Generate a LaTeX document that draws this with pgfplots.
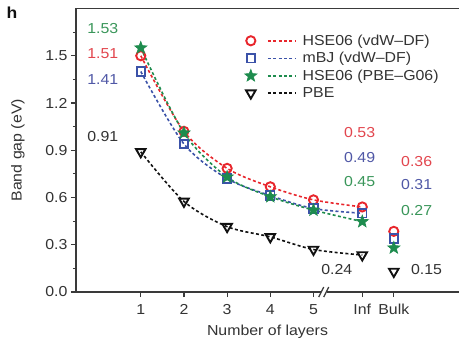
\documentclass[border=0pt]{standalone}
\usepackage{pgfplots}
\pgfplotsset{compat=1.18}
\usepackage{fontspec}
\setmainfont{Liberation Sans}[FakeStretch=1.1]
\definecolor{cred}{HTML}{E8262C}
\definecolor{cblue}{HTML}{3B52A8}
\definecolor{cgreen}{HTML}{1E8C4E}
\definecolor{cblack}{HTML}{111111}
\definecolor{tred}{HTML}{E2464E}
\definecolor{tblue}{HTML}{5058A6}
\definecolor{tgreen}{HTML}{3A965A}
\definecolor{axgray}{HTML}{3A3A3A}
\definecolor{txgray}{HTML}{333333}
\pgfdeclareplotmark{fstar}{%
  \pgfpathmoveto{\pgfpointpolar{90}{\pgfplotmarksize}}%
  \pgfpathlineto{\pgfpointpolar{126}{0.42\pgfplotmarksize}}%
  \pgfpathlineto{\pgfpointpolar{162}{\pgfplotmarksize}}%
  \pgfpathlineto{\pgfpointpolar{198}{0.42\pgfplotmarksize}}%
  \pgfpathlineto{\pgfpointpolar{234}{\pgfplotmarksize}}%
  \pgfpathlineto{\pgfpointpolar{270}{0.42\pgfplotmarksize}}%
  \pgfpathlineto{\pgfpointpolar{306}{\pgfplotmarksize}}%
  \pgfpathlineto{\pgfpointpolar{342}{0.42\pgfplotmarksize}}%
  \pgfpathlineto{\pgfpointpolar{18}{\pgfplotmarksize}}%
  \pgfpathlineto{\pgfpointpolar{54}{0.42\pgfplotmarksize}}%
  \pgfpathclose
  \pgfusepathqfillstroke
}
\begin{document}
\begin{tikzpicture}[font=\fontsize{14.5}{17}\selectfont]
\path[use as bounding box] (-76bp,-53bp) rectangle (383bp,292bp);
\begin{axis}[
  at={(0,0)}, anchor=south west,
  scale only axis, width=383bp, height=283.5bp,
  xmin=-0.5, xmax=8.37, ymin=0, ymax=1.8,
  axis x line*=bottom, axis y line*=left,
  axis line style={line width=1.6bp, color=axgray},
  clip=false,
  xtick={1,2,3,4,5,6.13,6.86}, xticklabels={1,2,3,4,5,Inf,Bulk},
  ytick={0,0.3,0.6,0.9,1.2,1.5},
  minor ytick={0.15,0.45,0.75,1.05,1.35,1.65},
  yticklabel style={/pgf/number format/fixed, /pgf/number format/fixed zerofill, /pgf/number format/precision=1},
  xticklabel style={yshift=-4bp},
  /pgf/number format/assume math mode=true,
  tick align=outside, major tick length=5bp, minor tick length=3bp,
  every tick/.style={line width=1.2bp, color=axgray},
  tick label style={color=txgray},
  xlabel={Number of layers}, ylabel={Band gap (eV)},
  every axis x label/.style={at={(rel axis cs:0.5,0)}, yshift=-40bp, anchor=center, color=txgray},
  every axis y label/.style={at={(rel axis cs:0,0.5)}, xshift=-58bp, rotate=90, anchor=center, color=txgray},
  legend style={at={(rel axis cs:0.432,0.922)}, anchor=north west, draw=none, fill=none,
     font=\fontsize{14.5}{16}\selectfont, text=txgray, row sep=1.6bp,
     /tikz/every odd column/.append style={column sep=4bp}},
  legend cell align=left,
  legend image code/.code={
    \draw[#1,mark=none] (17bp,0bp) -- (45bp,0bp);
    \draw[#1] plot coordinates {(0bp,0bp)};
  },
  every axis plot/.append style={line width=1.6bp, dash pattern=on 3bp off 2.4bp},
]
\draw[line width=1.6bp, axgray] (rel axis cs:0,1) -- (rel axis cs:1,1);

% red
\addplot[cred, smooth, mark=o, mark size=4.6bp, mark options={solid, line width=1.9bp}]
  coordinates {(1,1.50) (2,1.02) (3,0.785) (4,0.668) (5,0.585) (6.13,0.54)};
% blue
\addplot[cblue, smooth, mark=square, mark size=4.2bp, mark options={solid, line width=1.9bp}]
  coordinates {(1,1.40) (2,0.94) (3,0.72) (4,0.612) (5,0.53) (6.13,0.50)};
% green
\addplot[cgreen, smooth, mark=fstar, mark size=6.5bp, mark options={solid, line width=0.6bp, fill=cgreen}]
  coordinates {(1,1.55) (2,1.01) (3,0.73) (4,0.605) (5,0.52) (6.13,0.447)};
% PBE
\addplot[cblack, smooth, mark=triangle, mark size=5.5bp, mark options={solid, rotate=180, line width=1.9bp}]
  coordinates {(1,0.89) (2,0.575) (3,0.415) (4,0.35) (5,0.27) (6.13,0.235)};
\legend{HSE06 (vdW--DF), mBJ (vdW--DF), HSE06 (PBE--G06), PBE}

% bulk points
\addplot[forget plot, only marks, cred, mark=o, mark size=4.6bp, mark options={solid, line width=1.9bp}]
  coordinates {(6.86,0.385)};
\addplot[forget plot, only marks, cblue, mark=square, mark size=4.2bp, mark options={solid, line width=1.9bp}]
  coordinates {(6.86,0.34)};
\addplot[forget plot, only marks, cgreen, mark=fstar, mark size=6.5bp, mark options={solid, line width=0.6bp, fill=cgreen}]
  coordinates {(6.86,0.28)};
\addplot[forget plot, only marks, cblack, mark=triangle, mark size=5.5bp, mark options={solid, rotate=180, line width=1.9bp}]
  coordinates {(6.86,0.13)};

% axis break
\fill[white] (axis cs:5.26,0) ++(-4bp,-6bp) rectangle ++(6bp,12bp);
\draw[line width=1.2bp, axgray] (axis cs:5.26,0) ++(-6bp,-5bp) -- ++(5bp,10bp);
\draw[line width=1.2bp, axgray] (axis cs:5.26,0) ++(-1bp,-5bp) -- ++(5bp,10bp);

% value annotations
\node[tgreen] at (axis cs:0.12,1.672) {1.53};
\node[tred] at (axis cs:0.12,1.513) {1.51};
\node[tblue] at (axis cs:0.12,1.348) {1.41};
\node[txgray] at (axis cs:0.12,0.985) {0.91};
\node[tred] at (axis cs:6.07,1.01) {0.53};
\node[tblue] at (axis cs:6.07,0.852) {0.49};
\node[tgreen] at (axis cs:6.07,0.70) {0.45};
\node[tred] at (axis cs:7.39,0.826) {0.36};
\node[tblue] at (axis cs:7.39,0.68) {0.31};
\node[tgreen] at (axis cs:7.39,0.52) {0.27};
\node[txgray] at (axis cs:5.54,0.14) {0.24};
\node[txgray] at (axis cs:7.62,0.14) {0.15};
\end{axis}
\node[font=\bfseries\fontsize{16}{18}\selectfont, text=cblack] at (-64bp,279bp) {h};
\end{tikzpicture}
\end{document}
